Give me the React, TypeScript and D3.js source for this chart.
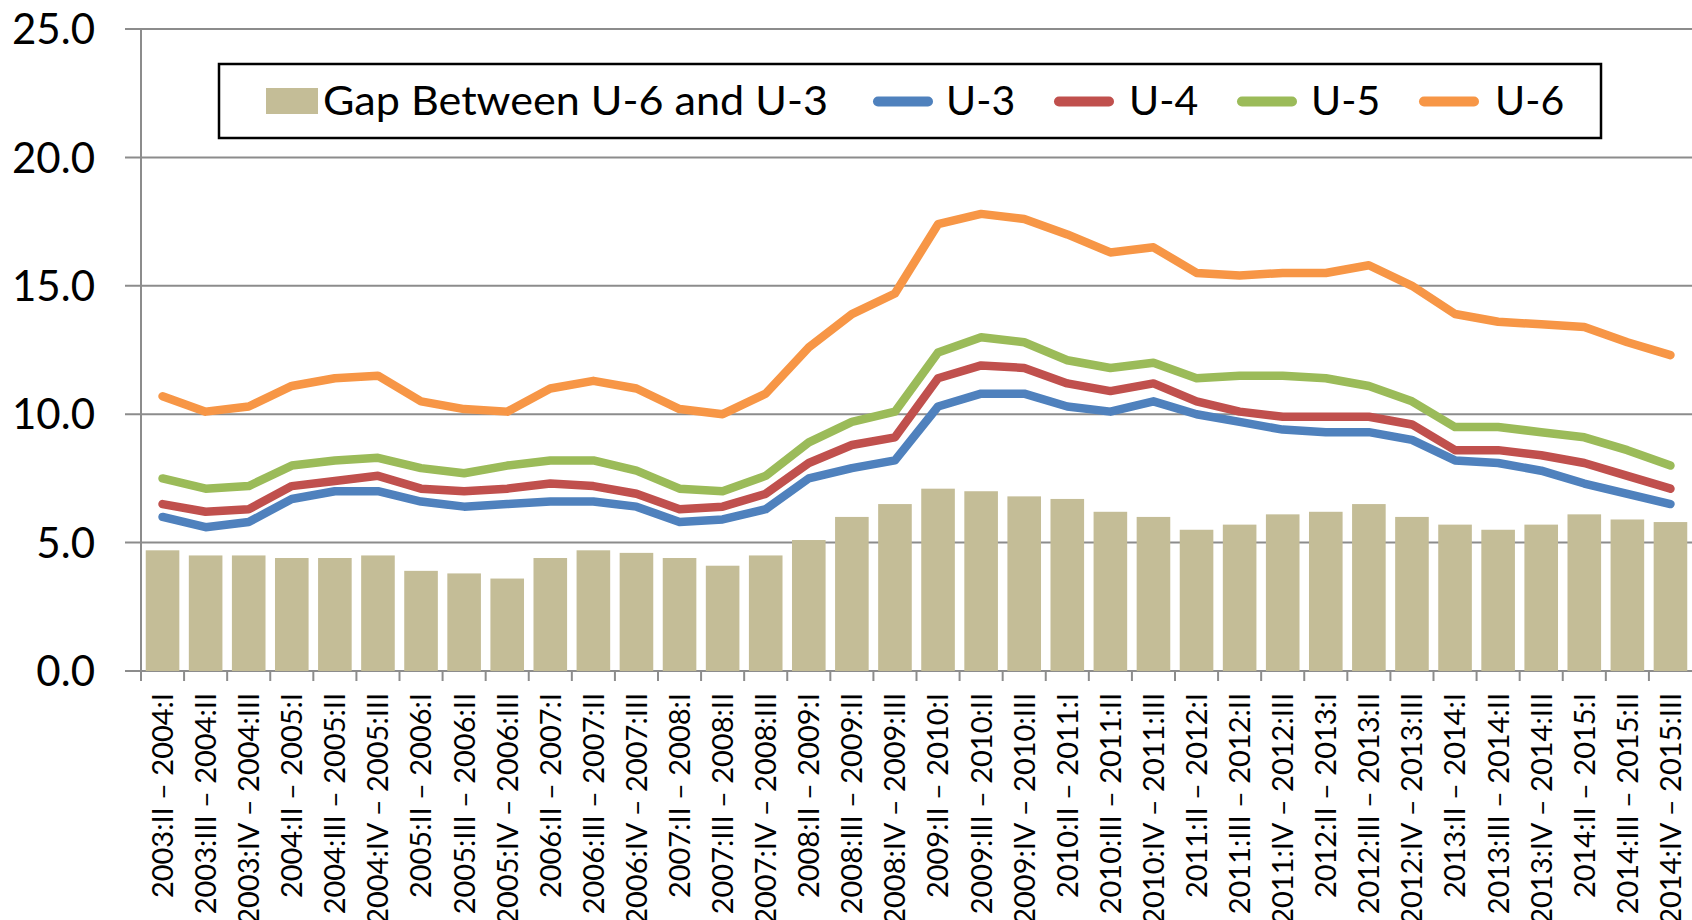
import React from "react";
import * as d3 from "d3";

const categories = [
  "2003:II – 2004:I", "2003:III – 2004:II", "2003:IV – 2004:III",
  "2004:II – 2005:I", "2004:III – 2005:II", "2004:IV – 2005:III",
  "2005:II – 2006:I", "2005:III – 2006:II", "2005:IV – 2006:III",
  "2006:II – 2007:I", "2006:III – 2007:II", "2006:IV – 2007:III",
  "2007:II – 2008:I", "2007:III – 2008:II", "2007:IV – 2008:III",
  "2008:II – 2009:I", "2008:III – 2009:II", "2008:IV – 2009:III",
  "2009:II – 2010:I", "2009:III – 2010:II", "2009:IV – 2010:III",
  "2010:II – 2011:I", "2010:III – 2011:II", "2010:IV – 2011:III",
  "2011:II – 2012:I", "2011:III – 2012:II", "2011:IV – 2012:III",
  "2012:II – 2013:I", "2012:III – 2013:II", "2012:IV – 2013:III",
  "2013:II – 2014:I", "2013:III – 2014:II", "2013:IV – 2014:III",
  "2014:II – 2015:I", "2014:III – 2015:II", "2014:IV – 2015:III",
];

const gap = [
  4.7, 4.5, 4.5, 4.4, 4.4, 4.5, 3.9, 3.8, 3.6, 4.4, 4.7, 4.6,
  4.4, 4.1, 4.5, 5.1, 6.0, 6.5, 7.1, 7.0, 6.8, 6.7, 6.2, 6.0,
  5.5, 5.7, 6.1, 6.2, 6.5, 6.0, 5.7, 5.5, 5.7, 6.1, 5.9, 5.8,
];
const u3 = [
  6.0, 5.6, 5.8, 6.7, 7.0, 7.0, 6.6, 6.4, 6.5, 6.6, 6.6, 6.4,
  5.8, 5.9, 6.3, 7.5, 7.9, 8.2, 10.3, 10.8, 10.8, 10.3, 10.1, 10.5,
  10.0, 9.7, 9.4, 9.3, 9.3, 9.0, 8.2, 8.1, 7.8, 7.3, 6.9, 6.5,
];
const u4 = [
  6.5, 6.2, 6.3, 7.2, 7.4, 7.6, 7.1, 7.0, 7.1, 7.3, 7.2, 6.9,
  6.3, 6.4, 6.9, 8.1, 8.8, 9.1, 11.4, 11.9, 11.8, 11.2, 10.9, 11.2,
  10.5, 10.1, 9.9, 9.9, 9.9, 9.6, 8.6, 8.6, 8.4, 8.1, 7.6, 7.1,
];
const u5 = [
  7.5, 7.1, 7.2, 8.0, 8.2, 8.3, 7.9, 7.7, 8.0, 8.2, 8.2, 7.8,
  7.1, 7.0, 7.6, 8.9, 9.7, 10.1, 12.4, 13.0, 12.8, 12.1, 11.8, 12.0,
  11.4, 11.5, 11.5, 11.4, 11.1, 10.5, 9.5, 9.5, 9.3, 9.1, 8.6, 8.0,
];
const u6 = [
  10.7, 10.1, 10.3, 11.1, 11.4, 11.5, 10.5, 10.2, 10.1, 11.0, 11.3, 11.0,
  10.2, 10.0, 10.8, 12.6, 13.9, 14.7, 17.4, 17.8, 17.6, 17.0, 16.3, 16.5,
  15.5, 15.4, 15.5, 15.5, 15.8, 15.0, 13.9, 13.6, 13.5, 13.4, 12.8, 12.3,
];
const yTicks = [0, 5, 10, 15, 20, 25];

const lineSeries = [
  { name: "U-3", values: u3, color: "#4F81BD" },
  { name: "U-4", values: u4, color: "#C0504D" },
  { name: "U-5", values: u5, color: "#9BBB59" },
  { name: "U-6", values: u6, color: "#F79646" },
];

const W = 1692;
const H = 920;
const left = 141;
const right = 1692;
const top = 29;
const bottom = 671;
const FONT = "Lato, 'Open Sans', sans-serif";

export default function App() {
  const x = d3
    .scaleBand<string>()
    .domain(categories)
    .range([left, right])
    .paddingInner(0.22)
    .paddingOuter(0.11);
  const step = x.step();
  const y = d3.scaleLinear().domain([0, 25]).range([bottom, top]);
  const cx = (i: number) => (x(categories[i]) as number) + x.bandwidth() / 2;
  const line = d3
    .line<number>()
    .x((_, i) => cx(i))
    .y((d) => y(d));

  const legendItems = [
    { name: "U-3", color: "#4F81BD", x0: 874, tx: 946 },
    { name: "U-4", color: "#C0504D", x0: 1055, tx: 1129 },
    { name: "U-5", color: "#9BBB59", x0: 1238, tx: 1311 },
    { name: "U-6", color: "#F79646", x0: 1420, tx: 1495 },
  ];

  return (
    <svg
      width={W}
      height={H}
      style={{ position: "absolute", left: 0, top: 0, display: "block", background: "#fff" }}
      fontFamily={FONT}
    >
      {/* gridlines */}
      {yTicks.map((t) => (
        <line
          key={t}
          x1={left - 16}
          x2={right}
          y1={y(t)}
          y2={y(t)}
          stroke="#8c8c8c"
          strokeWidth={2}
        />
      ))}
      {yTicks.map((t) => (
        <text
          key={"l" + t}
          x={95}
          y={y(t)}
          dy="0.36em"
          textAnchor="end"
          fontSize={42}
          fill="#000"
        >
          {t.toFixed(1)}
        </text>
      ))}
      {/* y axis line */}
      <line x1={left} x2={left} y1={top} y2={bottom + 10} stroke="#8c8c8c" strokeWidth={2} />
      {/* x ticks */}
      {categories.map((c, i) => (
        <line
          key={"t" + c}
          x1={left + i * step}
          x2={left + i * step}
          y1={bottom}
          y2={bottom + 10}
          stroke="#8c8c8c"
          strokeWidth={2}
        />
      ))}
      {/* bars */}
      {gap.map((v, i) => (
        <rect
          key={"b" + i}
          x={x(categories[i]) as number}
          width={x.bandwidth()}
          y={y(v)}
          height={y(0) - y(v)}
          fill="#C4BD97"
        />
      ))}
      {/* lines */}
      {lineSeries.map((s) => (
        <path
          key={s.name}
          d={line(s.values) as string}
          fill="none"
          stroke={s.color}
          strokeWidth={8.5}
          strokeLinejoin="round"
          strokeLinecap="round"
        />
      ))}
      {/* x labels */}
      {categories.map((c, i) => (
        <text
          key={"x" + c}
          transform={`translate(${cx(i)},693) rotate(-90)`}
          textAnchor="end"
          dy="0.36em"
          fontSize={29}
          fill="#000"
        >
          {c}
        </text>
      ))}
      {/* legend */}
      <rect x={219} y={64} width={1382} height={74} fill="#fff" stroke="#000" strokeWidth={2.5} />
      <rect x={266} y={88} width={52} height={26} fill="#C4BD97" />
      <text
        x={323}
        y={115}
        fontSize={41}
        fill="#000"
        textLength={505}
        lengthAdjust="spacingAndGlyphs"
      >
        Gap Between U-6 and U-3
      </text>
      {legendItems.map((l) => (
        <g key={"lg" + l.name}>
          <line
            x1={l.x0 + 4}
            x2={l.x0 + 54}
            y1={101.5}
            y2={101.5}
            stroke={l.color}
            strokeWidth={10}
            strokeLinecap="round"
          />
          <text x={l.tx} y={115} fontSize={41} fill="#000">
            {l.name}
          </text>
        </g>
      ))}
    </svg>
  );
}
